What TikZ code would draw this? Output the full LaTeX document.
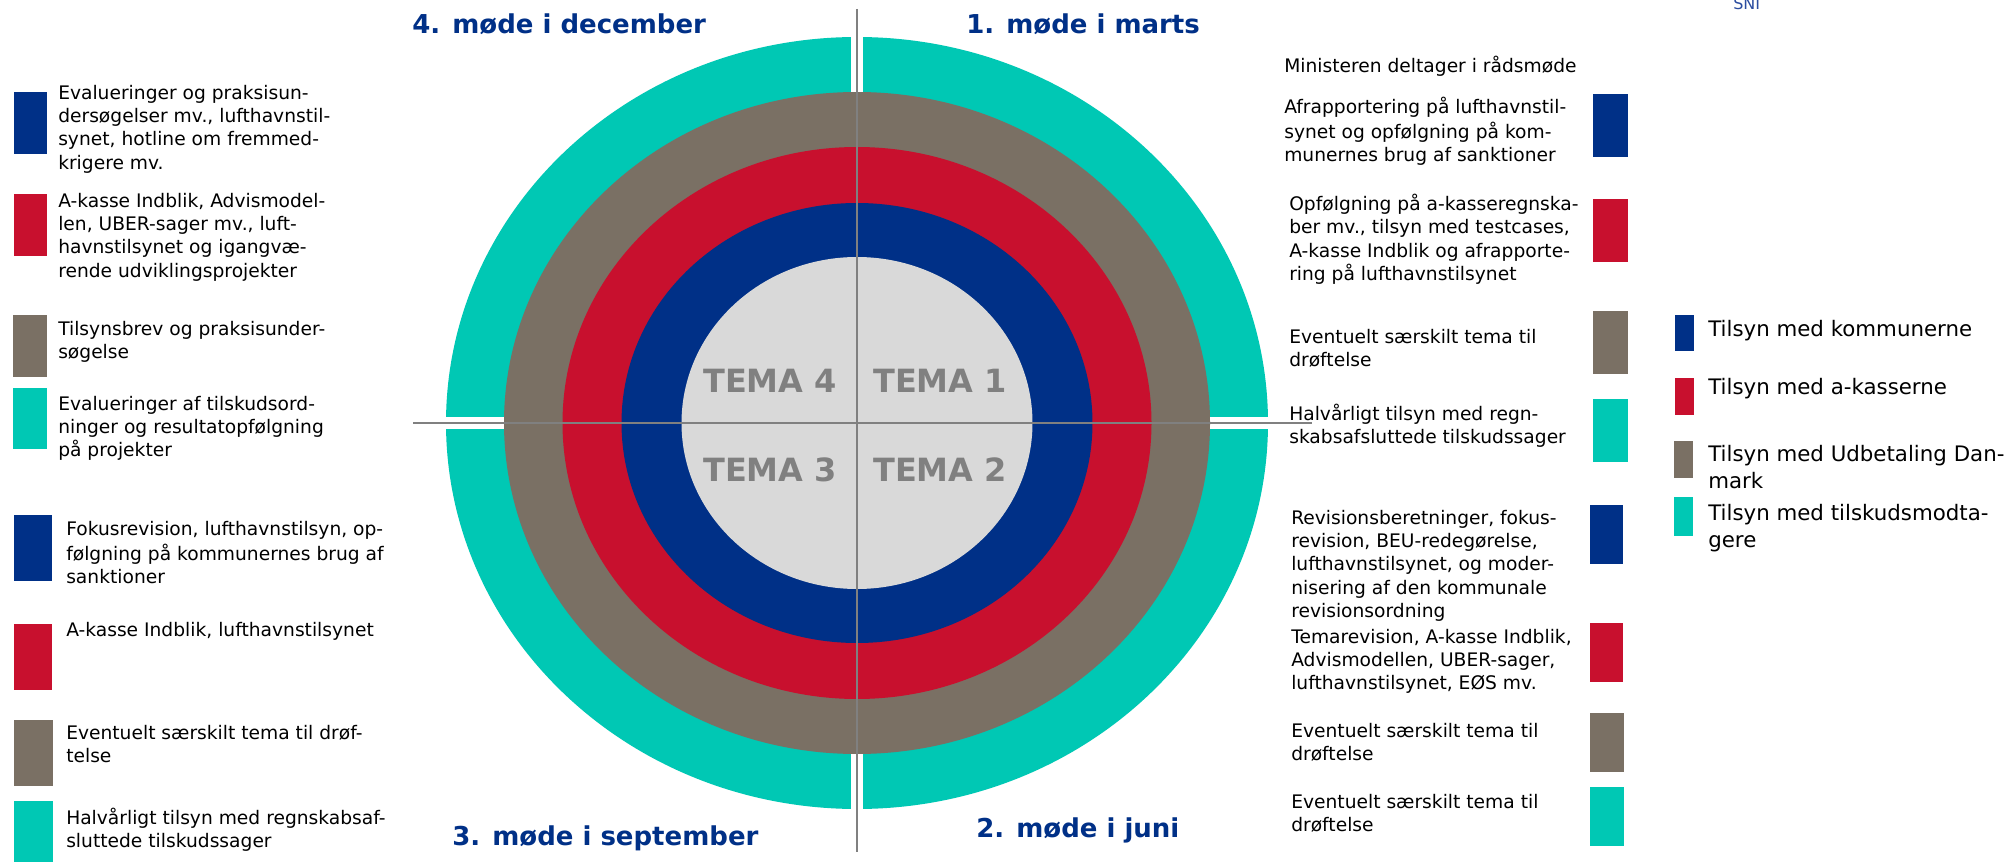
\documentclass[tikz,border=0pt]{standalone}
\usepackage{fontspec}
\setmainfont{DejaVu Sans}
\definecolor{cblue}{RGB}{0,48,135}
\definecolor{cred}{RGB}{200,16,46}
\definecolor{cgrey}{RGB}{122,112,100}
\definecolor{cteal}{RGB}{0,200,180}
\definecolor{clight}{RGB}{217,217,217}
\definecolor{cline}{RGB}{128,128,128}
\definecolor{ctitle}{RGB}{0,48,135}
\definecolor{csni}{RGB}{43,77,160}
\newcommand{\mybody}{\fontsize{14pt}{17.5pt}\selectfont}
\newcommand{\myleg}{\fontsize{16pt}{20.25pt}\selectfont}
\newcommand{\mytitle}{\fontsize{19.5pt}{23pt}\selectfont\bfseries}
\newcommand{\mytema}{\fontsize{24pt}{28pt}\selectfont\bfseries}
\begin{document}
\begin{tikzpicture}[x=0.75pt,y=-0.75pt,
  txt/.style={anchor=north west,inner sep=0pt,align=left,font=\mybody},
  oneline/.style={anchor=base west,inner sep=0pt,font=\mybody},
  legtxt/.style={anchor=north west,inner sep=0pt,align=left,font=\myleg},
  legone/.style={anchor=base west,inner sep=0pt,font=\myleg},
  titletxt/.style={anchor=base west,inner sep=0pt,font=\mytitle,text=ctitle},
  tematxt/.style={anchor=base west,inner sep=0pt,font=\mytema,text=cline},
  divider/.style={draw=cline,line width=1.7pt},
]
\useasboundingbox (0,0) rectangle (2006,862);
\fill[white] (0,0) rectangle (2006,862);

% rings
\fill[cteal] (857,423) ellipse [x radius=411,y radius=386];
\fill[white] (400,417) rectangle (1320,429);
\fill[white] (851,25) rectangle (863,820);
\fill[cgrey] (857,423) ellipse [x radius=353,y radius=331];
\fill[cred] (857,423) ellipse [x radius=294.5,y radius=276];
\fill[cblue] (857,423) ellipse [x radius=235.5,y radius=220];
\fill[clight] (857,423) ellipse [x radius=175.5,y radius=166];

% dividers
\coordinate (vtop) at (857,9);
\coordinate (vbot) at (857,852);
\coordinate (hleft) at (413,423);
\coordinate (hright) at (1312,423);
\draw[divider] (vtop) -- (vbot);
\draw[divider] (hleft) -- (hright);

% TEMA labels
\node[tematxt] (t4) at (703,393) {TEMA 4};
\node[tematxt] (t1) at (873,393) {TEMA 1};
\node[tematxt] (t3) at (703,482) {TEMA 3};
\node[tematxt] (t2) at (873,482) {TEMA 2};

% titles
\node[titletxt] (m4) at (412,34) {4. møde i december};
\node[titletxt] (m1) at (966,34) {1. møde i marts};
\node[titletxt] (m3) at (452,845) {3. møde i september};
\node[titletxt] (m2) at (976,837) {2. møde i juni};

\node[anchor=base west,inner sep=0pt,font=\fontsize{12pt}{14pt}\selectfont,text=csni] (sni) at (1733,10) {SNI};

% left swatches
\fill[cblue] (14,92) rectangle (47,154);
\fill[cred] (14,194) rectangle (47,256);
\fill[cgrey] (13,315) rectangle (47,377);
\fill[cteal] (13,388) rectangle (47,449);
\fill[cblue] (14,515) rectangle (52,581);
\fill[cred] (14,624) rectangle (52,690);
\fill[cgrey] (14,720) rectangle (53,786);
\fill[cteal] (14,801) rectangle (53,862);

% left texts
\node[txt] (l1) at (58,82.7) {\strut Evalueringer og praksisun-\\dersøgelser mv., lufthavnstil-\\synet, hotline om fremmed-\\krigere mv.};
\node[txt] (l2) at (58,190.7) {\strut A-kasse Indblik, Advismodel-\\len, UBER-sager mv., luft-\\havnstilsynet og igangvæ-\\rende udviklingsprojekter};
\node[txt] (l3) at (58,318.7) {\strut Tilsynsbrev og praksisunder-\\søgelse};
\node[txt] (l4) at (58,393.7) {\strut Evalueringer af tilskudsord-\\ninger og resultatopfølgning\\på projekter};
\node[txt] (l5) at (66,518.7) {\strut Fokusrevision, lufthavnstilsyn, op-\\følgning på kommunernes brug af\\sanktioner};
\node[oneline] (l6) at (66,636) {A-kasse Indblik, lufthavnstilsynet};
\node[txt] (l7) at (66,722.7) {\strut Eventuelt særskilt tema til drøf-\\telse};
\node[txt] (l8) at (66,807.7) {\strut Halvårligt tilsyn med regnskabsaf-\\sluttede tilskudssager};

% right swatches
\fill[cblue] (1593,94) rectangle (1628,157);
\fill[cred] (1593,199) rectangle (1628,262);
\fill[cgrey] (1593,311) rectangle (1628,374);
\fill[cteal] (1593,399) rectangle (1628,462);
\fill[cblue] (1590,505) rectangle (1623,564);
\fill[cred] (1590,623) rectangle (1623,682);
\fill[cgrey] (1590,713) rectangle (1624,772);
\fill[cteal] (1590,787) rectangle (1624,846);

% right texts
\node[oneline] (r0) at (1284,73) {Ministeren deltager i rådsmøde};
\node[txt] (r1) at (1284,96.7) {\strut Afrapportering på lufthavnstil-\\synet og opfølgning på kom-\\munernes brug af sanktioner};
\node[txt] (r2) at (1289,193.7) {\strut Opfølgning på a-kasseregnska-\\ber mv., tilsyn med testcases,\\A-kasse Indblik og afrapporte-\\ring på lufthavnstilsynet};
\node[txt] (r3) at (1289,326.7) {\strut Eventuelt særskilt tema til\\drøftelse};
\node[txt] (r4) at (1289,403.7) {\strut Halvårligt tilsyn med regn-\\skabsafsluttede tilskudssager};
\node[txt] (r5) at (1291,507.7) {\strut Revisionsberetninger, fokus-\\revision, BEU-redegørelse,\\lufthavnstilsynet, og moder-\\nisering af den kommunale\\revisionsordning};
\node[txt] (r6) at (1291,626.7) {\strut Temarevision, A-kasse Indblik,\\Advismodellen, UBER-sager,\\lufthavnstilsynet, EØS mv.};
\node[txt] (r7) at (1291,720.7) {\strut Eventuelt særskilt tema til\\drøftelse};
\node[txt] (r8) at (1291,791.7) {\strut Eventuelt særskilt tema til\\drøftelse};

% far right legend
\fill[cblue] (1675,315) rectangle (1694,351);
\fill[cred] (1675,378) rectangle (1694,415);
\fill[cgrey] (1674,441) rectangle (1693,478);
\fill[cteal] (1674,497) rectangle (1693,536);
\node[legone] (k1) at (1708,337) {Tilsyn med kommunerne};
\node[legone] (k2) at (1708,395) {Tilsyn med a-kasserne};
\node[legtxt] (k3) at (1708,442.1) {\strut Tilsyn med Udbetaling Dan-\\mark};
\node[legtxt] (k4) at (1708,501.6) {\strut Tilsyn med tilskudsmodta-\\gere};
\end{tikzpicture}
\end{document}
